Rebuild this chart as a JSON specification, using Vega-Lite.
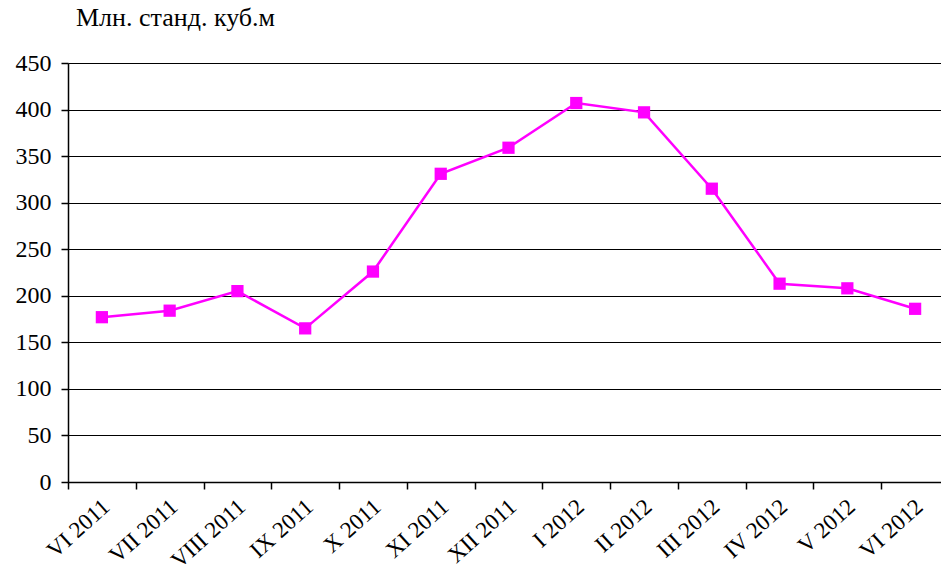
{
  "$schema": "https://vega.github.io/schema/vega-lite/v6.json",
  "autosize": {"type": "none"},
  "width": 873,
  "height": 419,
  "padding": {"left": 68, "top": 63, "right": 0, "bottom": 89},
  "background": "white",
  "title": {
    "text": "Млн. станд. куб.м",
    "anchor": "start",
    "frame": "group",
    "dx": 8,
    "offset": 20,
    "font": "Liberation Serif, Times New Roman, serif",
    "fontSize": 26,
    "fontWeight": "normal",
    "color": "black"
  },
  "config": {
    "view": {"stroke": null},
    "axis": {
      "labelColor": "black",
      "domainColor": "black",
      "tickColor": "black",
      "domainWidth": 1.5,
      "tickWidth": 1.5
    },
    "axisY": {
      "labelFont": "Liberation Serif",
      "labelFontSize": 24,
      "labelColor": "black"
    },
    "axisQuantitative": {
      "labelFont": "Liberation Serif",
      "labelFontSize": 24
    }
  },
  "data": {
    "values": [
      {"month": "VI 2011", "value": 177},
      {"month": "VII 2011", "value": 184},
      {"month": "VIII 2011", "value": 205},
      {"month": "IX 2011", "value": 165},
      {"month": "X 2011", "value": 226},
      {"month": "XI 2011", "value": 331},
      {"month": "XII 2011", "value": 359},
      {"month": "I 2012", "value": 407},
      {"month": "II 2012", "value": 397},
      {"month": "III 2012", "value": 315},
      {"month": "IV 2012", "value": 213},
      {"month": "V 2012", "value": 208},
      {"month": "VI 2012", "value": 186}
    ]
  },
  "encoding": {
    "x": {
      "field": "month",
      "type": "nominal",
      "sort": null,
      "scale": {"type": "band", "paddingInner": 0, "paddingOuter": 0, "range": [0, 881]},
      "axis": {
        "title": null,
        "labelFont": "Liberation Serif",
        "labelFontSize": 23,
        "labelAngle": -42,
        "labelAlign": "right",
        "labelBaseline": "middle",
        "labelPadding": 14,
        "labelOffset": 38,
        "labelBound": false,
        "labelOverlap": false,
        "tickSize": 7,
        "tickOffset": -33.9,
        "grid": false
      }
    },
    "y": {
      "field": "value",
      "type": "quantitative",
      "scale": {"domain": [0, 450], "nice": false, "zero": true},
      "axis": {
        "title": null,
        "labelFont": "Liberation Serif",
        "labelFontSize": 24,
        "values": [0, 50, 100, 150, 200, 250, 300, 350, 400, 450],
        "grid": true,
        "gridColor": "black",
        "gridOpacity": 1,
        "gridWidth": 1.2,
        "tickSize": 7,
        "labelPadding": 10,
        "labelLimit": 0
      }
    }
  },
  "layer": [
    {
      "mark": {"type": "line", "color": "#FF00FF", "strokeWidth": 2.5}
    },
    {
      "mark": {"type": "point", "shape": "square", "filled": true, "color": "#FF00FF", "size": 150, "opacity": 1}
    }
  ]
}
